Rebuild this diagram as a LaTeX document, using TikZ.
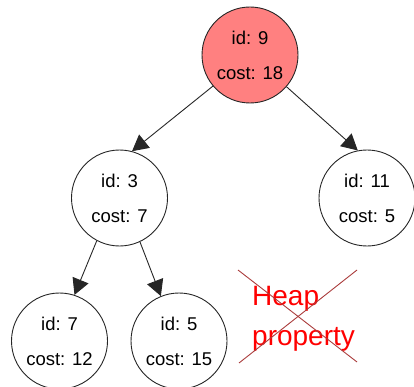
\documentclass[tikz,border=0pt]{standalone}
\usepackage{fontspec}
\setmainfont{Liberation Sans}
\usetikzlibrary{arrows.meta}
\definecolor{rootfill}{RGB}{255,128,128}
\definecolor{crossred}{RGB}{170,60,60}
\tikzset{
  heapnode/.style={circle, draw=black!85, line width=0.9pt, minimum size=96pt, inner sep=0pt,
    align=center, font=\fontsize{18.5}{35}\selectfont},
  edgearrow/.style={draw=black!85, line width=0.9pt, -{Triangle[length=16pt,width=17pt]}},
  heaplabel/.style={text=red, font=\fontsize{28}{40}\selectfont, inner sep=0pt},
  crossline/.style={draw=crossred, line width=0.9pt}
}
\begin{document}
\begin{tikzpicture}[x=1pt,y=-1pt]
\useasboundingbox (0,0) rectangle (414,387);
\node[heapnode, fill=rootfill] (n9) at (250,55) {id: 9\\cost: 18};
\node[heapnode] (n3) at (119.5,198) {id: 3\\cost: 7};
\node[heapnode] (n11) at (367,198) {id: 11\\cost: 5};
\node[heapnode] (n7) at (59.5,341) {id: 7\\cost: 12};
\node[heapnode] (n5) at (179,341) {id: 5\\cost: 15};
\draw[edgearrow] (n9.220) -- (n3.75);
\draw[edgearrow] (n9.319) -- (n11.101);
\draw[edgearrow] (n3.242) -- (n7.72);
\draw[edgearrow] (n3.295) -- (n5.112);
\node[heaplabel, anchor=base west] (h1) at (252,305) {Heap};
\node[heaplabel, anchor=base west] (h2) at (252,345) {property};
\coordinate (c1) at (238,270);
\coordinate (c2) at (357,362);
\coordinate (c3) at (357,270);
\coordinate (c4) at (239,363);
\draw[crossline] (c1) -- (c2);
\draw[crossline] (c3) -- (c4);
\end{tikzpicture}
\end{document}
